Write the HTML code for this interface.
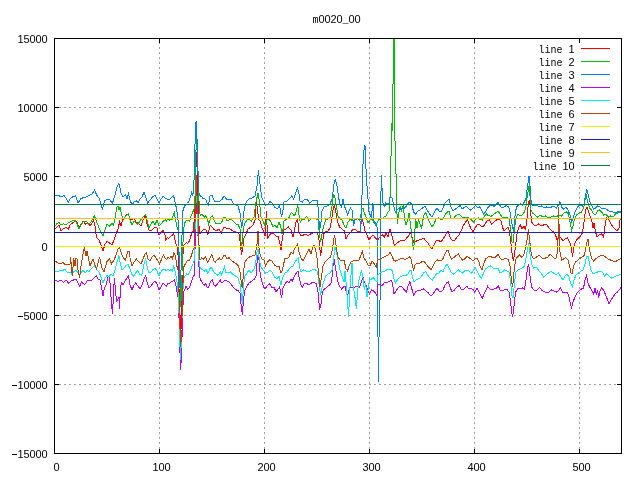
<!DOCTYPE html>
<html><head><meta charset="utf-8"><title>m0020_00</title>
<style>html,body{margin:0;padding:0;background:#fff}svg{display:block}text{font-family:"Liberation Mono",monospace;font-size:11px;fill:#000}</style>
</head><body>
<svg width="640" height="480" viewBox="0 0 640 480">
<rect x="0" y="0" width="640" height="480" fill="#fff"/>
<g shape-rendering="crispEdges" stroke="#a0a0a0" stroke-width="1" stroke-dasharray="2 3" fill="none">
<line x1="54" y1="107.5" x2="622" y2="107.5"/>
<line x1="54" y1="176.5" x2="622" y2="176.5"/>
<line x1="54" y1="246.5" x2="622" y2="246.5"/>
<line x1="54" y1="315.5" x2="622" y2="315.5"/>
<line x1="54" y1="384.5" x2="622" y2="384.5"/>
<line x1="159.5" y1="454" x2="159.5" y2="38"/>
<line x1="264.5" y1="454" x2="264.5" y2="38"/>
<line x1="369.5" y1="454" x2="369.5" y2="38"/>
<line x1="474.5" y1="454" x2="474.5" y2="38"/>
<line x1="579.5" y1="454" x2="579.5" y2="38"/>
</g>
<rect x="532" y="43" width="84" height="128" fill="#fff"/>
<g shape-rendering="crispEdges" stroke="#000" stroke-width="1" fill="none">
<line x1="54" y1="107.5" x2="59" y2="107.5"/>
<line x1="617" y1="107.5" x2="622" y2="107.5"/>
<line x1="54" y1="176.5" x2="59" y2="176.5"/>
<line x1="617" y1="176.5" x2="622" y2="176.5"/>
<line x1="54" y1="246.5" x2="59" y2="246.5"/>
<line x1="617" y1="246.5" x2="622" y2="246.5"/>
<line x1="54" y1="315.5" x2="59" y2="315.5"/>
<line x1="617" y1="315.5" x2="622" y2="315.5"/>
<line x1="54" y1="384.5" x2="59" y2="384.5"/>
<line x1="617" y1="384.5" x2="622" y2="384.5"/>
<line x1="159.5" y1="454" x2="159.5" y2="449"/>
<line x1="159.5" y1="38" x2="159.5" y2="43"/>
<line x1="264.5" y1="454" x2="264.5" y2="449"/>
<line x1="264.5" y1="38" x2="264.5" y2="43"/>
<line x1="369.5" y1="454" x2="369.5" y2="449"/>
<line x1="369.5" y1="38" x2="369.5" y2="43"/>
<line x1="474.5" y1="454" x2="474.5" y2="449"/>
<line x1="474.5" y1="38" x2="474.5" y2="43"/>
<line x1="579.5" y1="454" x2="579.5" y2="449"/>
<line x1="579.5" y1="38" x2="579.5" y2="43"/>
</g>
<g shape-rendering="crispEdges" fill="none" stroke-width="1" stroke-linejoin="miter">
<path stroke="#ff0000" d="M55 229 L57 227 L59 225 L61 231 L63 229 L66 227.6 L68.4 229 L70 225 L72.4 223 L75 221.6 L77 222 L79 228 L81 224.4 L83 221 L85.6 224 L87.6 222.4 L90 226 L92 223 L93.6 220 L95 226 L96.4 237 L99 240 L101 245 L103 251 L105 244 L107 241.6 L109.6 243 L112 245 L114 240 L116 234 L118 229 L119.6 222 L121 226 L122.4 220 L124.4 218 L126.4 215 L128.4 214 L130 219 L132 220 L134 218.4 L136 222 L139 224 L141 226 L143 220 L145.6 215 L147 224 L149 230 L151 231 L153 229 L155 227 L157 228 L159 235 L161 233 L163 230 L165 235.2 L165.9 240.3 L167.3 237.5 L168.7 238.4 L170.6 236.1 L172 235.6 L173.4 233.3 L174.4 236.6 L175.3 241.2 L176.2 245 L177.5 248.5 L177.5 254.5 L178.5 255.5 L178.5 293.5 M179.5 288.5 L179.5 314.5 L180.5 315.5 L180.5 328.5 L181.5 328.5 L181.5 300.5 L182.5 299.5 L182.5 274.5 M182.5 269.5 L182.5 254.5 L183.5 253.5 L183.5 245.5 L184.2 245 L185.2 243.6 L186.6 242.2 L187.5 243.6 L188.9 241.7 L190.3 238.4 L191.2 234.7 L192.2 231.9 L192.5 231.5 L193.5 231.5 L193.5 222.5 L194.5 221.5 L194.5 209.5 L195.5 208.5 L195.5 167.5 L196.5 166.5 L196.5 152.5 L197.5 153.5 L197.5 200.5 L198.5 201.5 L198.5 225.5 L199.5 226.5 L199.5 233.5 L200.5 233.5 L201.1 232.3 L202.5 230.5 L203.9 229.5 L205.3 229.1 L206.7 231.4 L207.7 234.2 L208.6 232.3 L209.5 227.2 L210.5 225.3 L211.9 226.7 L213.3 228.6 L214.7 230 L216.1 230.5 L217.5 230 L218.9 229.5 L220.3 231.4 L221.2 233.3 L222.4 230 L223.6 227.7 L225 227.2 L227 229 L229 228 L231.6 230 L234 231.6 L237 232.4 L239 234 L240.4 244 L241.6 255 L243 246 L244 238 L246 234 L248 229 L251 227 L253 225 L255 220 L256.4 200 L257.6 212 L259 220 L260.6 222 L262 228 L263.6 231 L265 236 L266.4 211 L267.6 238 L269.6 235 L271.6 233 L274 234 L276 236 L278.4 237 L280 244 L281 250 L282.4 238 L284 230 L286 229 L288.4 227 L291 230 L293 237 L294.4 230 L296 222 L297.6 219 L299 232 L301 236 L303.6 235 L306 234 L308 235.6 L310.4 234 L313 233 L315.6 232 L317.6 233 L319 240 L320.6 256 L322.4 244 L323.6 234 L325.6 232 L328 231 L330 228 L331.6 220 L333 210 L334.4 205 L336 213 L337.6 222 L339.6 227 L342 229 L344.4 231 L346 239 L348 235 L350 233 L352.4 230 L355 229 L357 231 L360 231.6 L361 224 L362.4 220 L363.6 224 L365 231 L367 235 L369 240 L371 237 L373 235 L375.6 238 L377.6 240 L380 237 L382.4 235 L384.4 237 L386 233 L388 237 L390 229 L391.6 234 L393 240 L394.4 246 L397 243 L400 241 L403 240 L405 240 L407.6 237 L409.6 234 L411 233 L412.4 239 L414 243 L416.4 241 L419 240 L421.6 239 L424 238.4 L426 241 L428 243 L430 247 L432 249 L434 245 L436 241 L438.4 240.4 L441 242 L443 239 L445 236 L447 232 L448 231 L449.6 236 L451.6 240 L454 241 L456.4 238 L459 235 L461 231 L463.6 225 L465.6 222 L467.6 220 L469 224 L471 229 L473 231.6 L475 228 L477 225 L479 224 L481 226 L483 227 L485 224 L487 221 L489.6 220 L491.6 224 L494 222 L496.4 220 L499 219 L501 221 L502.4 227 L504 231 L506 229 L508 227 L509.6 232 L511 244 L512.4 256 L513.4 261 L515.6 246 L517 234 L518.4 228 L520.4 225 L522 229 L524 226 L525.6 230 L527 218 L528.4 203 L529.6 200 L530.6 212 L531.6 222 L533.6 225 L536 226 L538.4 224 L541 226 L543.6 225 L546 224 L548.4 227 L551 230 L553.6 232 L555.6 235 L557 240 L559 237 L561 238 L563 241 L565 239 L567.6 238 L569.6 242 L571.6 248 L572.4 257 L574.4 244 L576.4 240 L578.4 238 L580.4 236 L582.4 233 L584 222 L585.6 210 L587 207 L588.4 211 L590 216 L591.6 220 L593 228 L594 223 L595.6 232 L597 237 L599 235 L601.6 234 L603.6 237 L605 226 L606.4 218 L607.6 216 L609 220 L611 224 L613 227 L615 229 L617 231 L619 228 L620 220 L621 219"/>
<path stroke="#00c000" d="M55 226 L57 223.6 L59 222.4 L61 225 L63.6 223.6 L66 225 L69 222.4 L72 221 L75 220 L77 224 L79 229 L81 225 L83 222 L86 221 L88.4 224 L91 222.4 L93 218 L94.4 216 L96.4 221 L99 228 L101 232 L103 235.6 L105 230 L107 224 L109.6 226 L112 223.6 L113.6 225 L115 218 L117 207 L118 206 L119 210 L120 207 L121.6 215 L123 219 L125 217 L127 215 L128.4 214 L130 220 L132 225 L134 221 L136 223 L138 224.4 L140.4 220 L142.4 218 L144 216 L145.6 214.4 L147 220 L149 228 L151 224 L153 221 L155 225 L157 220 L159 226 L161 224 L163 221.6 L164.8 220 L165 219.7 L166.4 221.1 L167.8 219.2 L169.2 220.2 L170.6 218.7 L172 219.7 L173.4 215 L174.4 212.7 L175.3 218.7 L176.2 222.5 L176.5 226.5 L177.5 227.5 L177.5 229.5 L178.5 230.5 L178.5 251.5 L179.5 252.5 L179.5 287.5 L180.5 288.5 L180.5 306.5 M181.5 300.5 L181.5 274.5 M182.5 270.5 L182.5 242.5 L183.5 241.5 L183.5 227.5 L184.5 226.5 L184.2 224.4 L185.2 222 L186.6 220.6 L188.4 220.2 L189.6 221.6 L190.8 216.9 L192.2 213.1 L193.1 211.2 L193.5 211.5 L193.5 209.5 L194.5 208.5 L194.5 196.5 L195.5 195.5 L195.5 150.5 L196.5 149.5 L196.5 139.5 L197.5 140.5 L197.5 170.5 L198.5 171.5 L198.5 200.5 L199.5 201.5 L199.5 213.5 L199.9 214.1 L200.6 215.5 L202 214.1 L203.4 215.9 L204.4 217.3 L205.8 215.5 L206.7 217.3 L207.7 220.2 L208.6 223.9 L209.5 221.1 L210.9 217.3 L212.3 215.5 L213.3 217.3 L214.2 220.2 L215.6 223 L217.5 223.9 L219.4 223 L221.2 223 L222.7 220.2 L223.6 217.8 L225 217.3 L227 221 L229 220 L231 219 L233 221 L236 224 L238.4 225 L240 229 L241.6 249 L243 232 L244.4 224 L247 220 L249 219 L251.6 221 L254 217 L256 202 L258 193 L259.6 203 L261 217 L263 221 L265 226 L267 220 L269 219 L271 222 L273 227 L275 225 L277 228 L279 222 L280.6 226 L282 234 L283.6 227 L283.8 221 L285.4 220.4 L286.6 219 L289 217.5 L290 214.8 L291.3 212.2 L292.5 213.5 L294 216 L295.4 214 L296.3 211.6 L297 208 L297.5 205 L298.2 208 L298.8 214 L299.4 216 L299.8 221 L300.4 222 L301 221 L302.2 219.4 L304.8 219 L305.4 217.5 L306.6 216.3 L307.5 218 L308.5 219.4 L308.6 221.6 L311 219 L314 218.4 L316.4 219 L318 220 L319 230 L320.6 242 L322 234 L323.6 226 L325.6 220 L328 219 L330 217 L332 206 L333.6 194 L335 198 L336.4 206 L338 216 L340 219 L342 220 L344.4 226 L346 228 L348 222 L350.4 219 L352.4 221 L354.4 220 L357 218 L359 220 L360.4 219 L361.6 209 L363 208 L364.4 213 L366 217 L368 223 L370 220 L371.6 219 L373.6 222 L375.6 225 L377.6 222 L380 218 L382 219 L384 217 L386 216 L388 212 L389.5 210.5 L389.5 197.5 L390.5 196.5 L390.5 156.5 L391.5 155.5 L391.5 123.5 L392.5 130.5 L392.5 84.5 L393.5 83.5 L393.5 38.5 L394.5 38.5 L394.5 140.5 L395.5 141.5 L395.5 173.5 L396.5 174.5 L396.5 213.5 L397.5 214.5 L397.5 223.5 L398.5 214.5 L399.5 209.5 L400.5 207.5 L401.5 210.5 L402.5 206.5 L403.5 205.5 L404.4 218 L406 225 L407.6 220 L409 213 L410.4 224 L412 238 L413.6 250 L414.4 240 L415.6 218 L417 228 L418.4 220 L420 224 L421.6 228 L423.6 216 L425.6 212.4 L427.6 218 L429.6 222 L432 227 L434 224 L436 219 L438.4 218 L441 219.6 L443 219 L445 215 L447 212.4 L449 211 L451 218 L453 219 L455.6 216 L458 214 L460 215 L462 217 L464.4 218 L467 217.6 L469 218 L471.6 220 L473.6 222 L476 219 L478.4 218 L480.4 219.6 L482.4 220 L484.4 216 L486.4 214 L488.4 215.6 L491 216.4 L493 215 L495.6 213 L498 211 L500 214 L502 217 L504.4 217.6 L507 217 L509 219 L510.4 228 L512 242 L513 243 L514.4 230 L516 218 L518 214 L520.4 216 L522.4 215 L524.4 212 L526 206 L527.6 194 L529 186 L530 196 L531 210 L532.4 213 L535 215 L537.6 217 L540 215 L543 217 L545.6 216 L548 218 L551 217 L553.6 216 L556 217 L559 215 L561.6 216 L564 213 L566.4 212 L568.4 214 L570 222 L571.6 230 L573 226 L574.4 219 L576.4 215 L579 213 L581.6 212 L583.6 208 L585 200 L586.4 196 L588 203 L589.6 208 L591.6 210 L593.6 214 L595.6 215 L597.6 211 L599.6 210 L601.6 212 L603.6 215 L606 214 L608 217 L610.4 216 L613 217 L615.6 214 L618 213 L620 212.4 L621 211.6"/>
<path stroke="#0080ff" d="M55 195.6 L59.6 196 L61.2 197 L64 195.6 L66 198 L68.4 202.4 L70 199 L72.4 197 L75.6 195.6 L78 203 L81 198.4 L84 197.6 L87 196.6 L90 195 L92.4 193.6 L94.4 190 L97 195.6 L99.6 199 L102.4 209.6 L104.4 201 L107 199 L110 200 L112.4 203.6 L114.4 197 L117 187 L119 183.6 L121 193 L123 197 L125.6 194.4 L127 199 L128.4 194 L130 200 L132 205 L134 202 L136.4 201 L138 202.6 L140 199 L142 197 L144 192 L145.6 197 L147.6 203 L150 200 L152.4 197 L155 195.6 L157 199 L159 203 L161 199 L163 196.6 L166 198.4 L168 200 L170 199 L172 197 L173.6 195.6 L175 202 L175.8 205.6 L176.7 209.4 L177.7 218.7 L178.5 222.5 L178.5 255.5 L179.5 256.5 L179.5 287.5 L180.5 287.5 L180.5 270.5 L181.5 269.5 L181.5 235.5 L182.5 234.5 L182.5 212.5 L183.5 208.5 L184.7 206 L186 204.7 L187.5 203.5 L189.4 200 L190.8 195.3 L191.7 192.5 L192.5 194.5 L193.5 192.5 L193.5 180.5 L194.5 179.5 L194.5 144.5 L195.5 143.5 L195.5 122.5 L196.5 121.5 L196.5 120.5 L196.5 138.5 L197.5 139.5 L197.5 172.5 L198.5 173.5 L198.5 192.5 L199.5 193.5 L200.2 196.2 L201.6 196.7 L202.5 198.1 L203.9 198.6 L205.3 199 L206.2 200.5 L207.2 203.8 L208.1 205.2 L209 201.9 L209.5 196.2 L211 195.3 L212.3 195.8 L213.3 199 L214.5 201 L215.6 201.9 L218.4 201.9 L220 201 L221.2 200 L222.2 199.5 L223.1 197.2 L224.5 196.2 L226.4 199 L229 199.6 L231 199 L233 203 L235.6 205 L238 206 L240 213 L241.6 228 L243 220 L244.4 208 L246.4 202 L249 199 L252 198 L255 196 L257 186 L258.4 170.4 L260 184 L261.6 197 L263.6 201 L265.6 205 L268 204 L270 201.6 L272 203 L274.4 207 L277 209 L279.6 206 L281.6 217 L283 210 L284 202 L287 201 L290 198 L292 195.6 L293.6 199 L296 192 L297.6 188 L299 194 L300 201 L302.4 202 L305 199 L307.6 200 L309.6 203 L312 201 L315 200.4 L317.6 201 L318.4 212 L319.6 230.4 L321 222 L322 211 L324 207 L327 206 L330 204 L332.4 198 L333.6 186 L335.4 179 L337 186 L338.4 196 L340 205 L341.6 207 L343 199 L344 205 L345.6 209 L347.6 215 L349 211 L350.4 208 L352 210 L353.6 226 L355 220 L357 219 L359 218 L360.5 222.5 L360.5 231.5 L361.5 215.5 L361.5 195.5 L362.5 194.5 L362.5 164.5 L363.5 163.5 L363.5 150.5 L364.5 149.5 L364.5 145.5 L365.5 146.5 L365.5 168.5 L366.5 169.5 L366.5 185.5 L367.5 186.5 L367.5 198.5 L368.5 199.5 L368.5 210.5 L369.5 212.5 L370.5 216.5 L371.5 217.5 L371.5 211.5 L372.5 210.5 L372.5 203.5 L373.5 204.5 L373.5 220.5 L374.5 221.5 L375.5 223.5 L376.5 225.5 L377.5 228.5 L377.5 336.5 L378.5 337.5 L378.5 381.5 L378.5 337.5 L379.5 336.5 L379.5 300.5 L380.5 299.5 L380.5 191.5 L381.5 190.5 L381.5 174.5 L381.5 188.5 L382.5 188.5 L382.5 202.5 L383.5 203.5 L383.5 205.5 L384.5 206.5 L385.5 204.5 L385.5 202.5 L386.5 203.5 L388.5 203.5 L389.5 202.5 L389.5 198.5 L390.5 197.5 L391.5 197.5 L392.5 198.5 L392.5 201.5 L393.5 202.5 L393.5 206.5 L394.5 207.5 L394.5 210.5 L395.5 211.5 L395.5 212.5 L396.5 210.5 L397.5 209.5 L398.5 208.5 L399.5 207.5 L400.5 209.5 L401.5 208.5 L403.5 208.5 L404.4 208 L406.4 206 L408.4 203 L410 202 L412 205 L413.6 212 L415.6 214 L418 211 L420 210 L422.4 208 L425 206 L427 210 L429.6 214 L432 217 L434.4 212 L437 208 L439 211 L441 212 L443 208 L445 203 L447 201 L449 199 L451 207 L453 211 L455.6 209 L458 207 L460 205.6 L462 209 L464 207.6 L466 206.4 L468 208 L470.4 210 L473 208 L475.6 205.6 L477.6 207.6 L479.6 207 L481.6 210 L483.6 214 L485.6 212 L487.6 208 L489.6 206 L492 205 L494 206.4 L496 204.4 L498 202.4 L500 205.6 L502 208 L504 207 L506 205.6 L508 206.4 L509.6 209 L511 218 L512.4 226 L513.6 232 L515 216 L516.4 207 L518.4 205 L520.4 204 L522.4 205 L524.4 202 L526 198 L527.6 186 L529 176 L530 186 L531 200 L532.4 205 L534.4 206 L536.4 205 L539 207 L541.6 206 L544 208 L546.4 207 L549 208 L551.6 207 L554 206 L556.4 208 L558.4 205 L560 201.6 L561.6 207 L563.6 209 L566 207 L568 210 L570 215 L571.6 222 L573 219 L574.4 213 L576.4 209 L578.4 206 L580.4 205 L582.4 206 L584 204 L585.6 194 L587 189.6 L588.4 196 L590 202 L591.6 205 L593.6 209 L595.6 208 L597.6 206 L600 207 L602.4 209 L605 208 L607.6 210 L610 212 L612.4 211.6 L615 213 L617.6 212 L620 211.6 L621 212"/>
<path stroke="#c000ff" d="M55 280 L58 281.6 L61 280 L63.6 282.4 L66 280 L68.4 283 L71 281 L73.6 280 L76 279 L78 283 L79.6 286.4 L81.6 282 L83 283.6 L85 284.4 L87 281 L89 280 L91 281 L93 279 L95 277 L96.4 276 L98 279 L100 280 L101.6 288 L103 296 L104.4 288 L106 285 L108 277 L109.4 276 L110.6 290 L111.6 306 L112.6 313.6 L113.6 290 L114.4 278 L115.6 292 L116.6 301 L118 299 L119 297 L119.6 309 L120.4 288 L121.6 283 L123 285 L125 281 L127 278 L128.4 276 L130 285 L132 290 L134 285 L135.6 283 L138 286 L140 289 L142 285 L144 279 L145.6 275.6 L147 282 L149 288 L151 286 L153 283 L155 281 L157 284 L159 290 L161 287 L163 283 L165 284.8 L166.4 286.2 L167.8 283.4 L169.7 283 L171.1 282 L172.5 281.6 L173.6 280.2 L174.4 279.7 L175.5 283.5 L176.5 288.5 L176.5 291.5 L177.5 292.5 L177.5 296.5 L178.5 297.5 L178.5 317.5 L179.5 318.5 L179.5 352.5 L180.5 353.5 L180.5 369.5 M181.5 362.5 L181.5 337.5 L182.5 336.5 L182.5 305.5 L183.5 304.5 L183.5 292.5 L186.1 286.2 L187.5 289.1 L188.9 288.6 L190.3 285.3 L191.7 281.1 L192.7 277.3 L193.5 276.5 L194.5 274.5 L194.5 249.5 L195.5 248.5 L195.5 214.5 L196.5 213.5 L196.5 203.5 L197.5 204.5 L197.5 235.5 L198.5 236.5 L198.5 266.5 L199.5 267.5 L199.5 273.5 L200.2 279.2 L201.6 281.6 L203 283.9 L204.4 285.3 L205.8 283.4 L207.2 287.2 L208.1 288.1 L209.5 284.4 L210.9 281.1 L212.3 279.7 L213.3 283.4 L214.2 285.8 L215.6 286.2 L217 284.4 L218.4 282.5 L220.3 280.2 L221.2 282.5 L222.7 282.5 L224.1 280.6 L225 280.2 L227 281 L229.6 282.4 L231.6 285 L234 288 L236.4 290 L238.4 291 L240 293 L241 304 L242.4 315 L243.6 298 L245 290 L247 286 L249 283 L252 281 L254.4 279 L256 276 L257.6 256 L258.2 254.4 L259 260 L260.4 276 L262 282 L263.6 287 L265 289 L267 286 L269.6 284 L271.6 287 L274 287 L276 292 L278 289 L279.6 287 L281.6 298 L283 288 L285 284 L287 281 L289 283 L291 279 L292.4 281 L294.4 276 L296.4 273 L298 271 L299.4 279 L301 285 L302.4 287 L304.4 283 L307 283.6 L309 285 L311.6 283 L314 282 L316.4 284 L318 292 L319.6 310 L321 304 L322.4 292 L324.4 289 L327 287 L329.6 285 L331.6 282 L333 266 L334 259 L335.6 269 L337 277 L338.4 284 L340 287 L341.6 289 L343.6 287 L345 286 L346.4 293 L347.6 296 L349 290 L350.4 287 L352.4 288 L355 287 L357.6 286 L359.6 287 L361.6 281 L363 277 L364.4 282 L366 285 L368 291 L369.6 294 L371.6 290 L373.6 291 L375.6 293 L377 295.6 L378 285 L380 284 L382 286 L384 283 L386.4 282.4 L389 281.6 L391 280 L392.4 283 L394 294 L396 291 L398 288 L400 286 L402 287 L404.4 290 L406.4 292 L408.4 285 L410 281.6 L411.6 288 L413.6 295 L415.6 292 L418 290 L421 290 L423.6 289 L426 291 L428.4 293 L431 296 L433 294 L435 291 L437 288 L439 291 L441 292 L443 290 L445 285 L447 282.4 L448.4 282 L450 287 L452 292 L454.4 290 L457 287 L459 285.6 L461 289 L463 290 L465 288 L467 286.4 L469 289 L471 288 L473 289.6 L475 292.4 L477 288 L479 292 L481 296 L482.4 298 L484 294 L486 290 L487.6 286.4 L489.6 289 L492 290 L494.4 289 L496.4 288 L498.4 286 L500 290 L502 291 L504.4 290 L507 289.6 L509 292 L510.4 300 L511.6 312 L512.6 317 L514 306 L515.6 292 L517.6 289 L518 288 L520 289 L522.4 288 L524.4 289 L526 280 L527.6 268 L528.6 263.6 L530 276 L531.6 287 L533.6 290 L535.6 291 L538 289 L539.6 287.6 L541.6 290 L544 291.6 L546.4 292.4 L549 292 L551.6 290 L554 291 L556.4 292 L559 290 L560.4 288 L562.4 292 L565 293 L567.6 292.4 L569 297 L570.6 305 L571.6 308 L573 302 L575 297 L577 293 L579 291 L581.6 289 L583.6 288 L585 280 L586.4 275.6 L588 283 L589.6 287 L591.6 290 L593.6 294.4 L595 288 L596.4 295 L597.6 290 L598.6 298 L600 291 L601.6 288 L603.6 290 L605.6 295 L607.6 300 L609 303.6 L611 300 L613 297 L615 294 L617 292.4 L619 290 L621 287.6"/>
<path stroke="#00eeee" d="M55 271.6 L59 271 L62 270.4 L65 269.6 L68 273 L70 272 L71.6 274 L73.6 272 L76 270 L78 273 L79.6 276 L81.6 272 L83 270 L85 273 L87 270.4 L89 271.6 L91 269 L93 267 L94.4 265.6 L96.4 269 L99 272 L101 277 L103 283 L105 278 L107 275.6 L109 277 L111 274 L113 276 L115 270 L117 262 L119 255.6 L120.4 264 L122 270 L124 268 L126 265.6 L128 264 L129.6 268 L131.6 274 L133.6 276 L135.6 273 L137.6 271 L139.6 274 L141.6 275.6 L143.6 266 L145.6 258.4 L147 266 L149 273 L151 272 L153 269.6 L155 268 L157 271 L159 276 L161 272 L163 269 L165 269.8 L166.4 270.3 L167.8 269.4 L169.7 270.3 L171.1 269.8 L172.5 271.2 L173.6 266.6 L174.8 269.4 L175.8 275 L176.7 280.6 L177.5 283.5 L177.5 291.5 L178.5 292.5 L178.5 312.5 L179.5 313.5 L179.5 346.5 L180.5 347.5 L180.5 359.5 M181.5 347.5 L181.5 341.5 M182.5 317.5 L182.5 315.5 M183.5 288.5 L183.5 282.5 L183.7 277.8 L185.2 275.9 L186.6 274.1 L188 275 L189.4 272.2 L190.8 269.4 L192.2 265.6 L193.5 263.5 L194.5 259.5 L194.5 229.5 L195.5 228.5 L195.5 203.5 L196.5 202.5 L196.5 190.5 L196.5 202.5 L197.5 203.5 L197.5 234.5 L198.5 235.5 L198.5 260.5 L199.5 261.5 L199.5 266.5 L200.6 268 L202 269.4 L203.4 270.3 L204.8 271.2 L206.2 269.4 L207.7 273.1 L208.6 272.2 L209.5 269.4 L210.7 267.5 L211.9 268.4 L213.3 271.2 L214.7 273.1 L216.1 274.1 L217.5 275 L218.9 274.1 L220.3 272.2 L221.7 275 L223.1 270.3 L224.5 266.6 L225.6 272 L228 273 L230.4 272 L233 274.4 L235.6 276 L238 278 L240 284 L241.6 297 L242.4 304 L243.6 284 L245 276 L247 273 L249 270 L251 273 L253.6 270 L255.6 264 L257 252 L258 249 L259.4 260 L261 267 L263 270 L265.6 273 L268 272 L270 270 L272 272 L274.4 277 L277 279 L279 276 L281 285 L282.4 278 L285 273 L287 272 L289 269 L291 267 L293 266 L295 262 L297 259 L298.4 258 L299.6 268 L301 272 L303.6 270 L306 271 L308 272 L310 271 L312.4 270 L315 269.6 L317.6 271.6 L319 284 L320.6 295 L322 288 L323.6 282 L325.6 276 L328 274 L330 273 L332 270 L333.6 259 L335 246 L336.4 252 L338 260 L340 270 L342 276 L344 282 L345 271 L346.4 286 L347.6 304 L348.6 317 L349.6 292 L351 275 L352 263 L353 286 L354.4 293 L355.6 302 L356.4 309 L357.6 292 L359 280 L360.4 274 L361.6 271 L363 278 L364.4 290 L365.6 283 L367 297 L368.4 287 L369.6 280 L371.6 279 L373 277 L375 280 L377 282 L378 275 L380 273 L382.4 272 L385 271 L387 269.6 L389 270 L391 269 L392.4 271 L394 279 L395.6 283 L398 279 L400 277 L402.4 275.6 L405 276 L407.6 274.4 L409.6 271 L411 270 L412.4 277 L414 282 L416 280 L418.4 279 L421 277 L423.6 273 L425.6 271.6 L427.6 275 L430 278 L432.4 280 L434.4 277 L436.4 274 L439 273 L441 270 L443 271.6 L445 267 L447 264 L449 268 L451 272 L453.6 274 L456 272 L458.4 270 L460.4 271.6 L462.4 273 L464.4 271 L467 270 L469 271 L471.6 273 L473.6 270 L475.6 268 L477.6 272 L479.6 276 L481.6 278 L483.6 273 L485.6 269 L488 267 L490.4 266 L493 268 L495.6 269 L498 268 L500 273 L502.4 272 L504.4 270 L507 271 L509 272 L510.4 280 L512 296 L513 298 L514.4 284 L516 272 L518 270 L520 269 L522.4 268 L524.4 266 L526 258 L527.6 248 L528.6 243 L530 254 L531.6 264 L533.6 268 L536 267 L538.4 270 L541 273 L543.6 277 L546 275 L548.4 273 L551 271 L553.6 273 L556 275 L558.4 273 L561 277 L563 280 L565 276 L567 274 L569 277 L570.6 283 L572.4 287 L574 280 L576 275 L578.4 273 L581 271 L583 270 L585 264 L586.4 257 L588 256 L589.6 264 L591 270 L593 274 L595 273 L597.6 272 L600 271.6 L602.4 272 L604.4 276 L606.4 274 L609 276 L611.6 278 L614 277 L616.4 276 L619 275 L621 274"/>
<path stroke="#c04000" d="M55 261 L58 263 L61 264 L63 262.4 L65 264.4 L68 265 L70 264 L70.6 257 L71.6 270 L72.4 276 L73.6 258 L75 266 L76 258 L77 259 L78 270 L79.6 278 L81 266 L83 254 L84.4 247.6 L86 256 L87 251 L88.4 258 L90 266 L91.6 262 L93 259 L95 265 L96.4 269 L98 263 L99.6 257 L101 264 L102.4 269 L104 272 L105.6 266 L107 261.6 L109.6 259 L111.6 264 L114 260 L116 255 L118 249 L119.6 248 L121.6 254 L123.6 258 L125.6 260 L127.6 252 L129 251 L130.4 260 L132 266 L134 262 L136.4 259 L139 262 L141 264 L143 259 L145 254 L146.4 252.4 L148 259 L150 261 L152 257 L154 255 L156 258 L158 261 L159.6 264 L161.6 259 L163.6 255 L165 258.1 L166.4 259.5 L167.8 257.7 L169.7 258.1 L171.1 256.2 L172.5 258.6 L173.9 253 L174.8 253.4 L176.5 262.5 L176.5 266.5 L177.5 266.5 L177.5 269.5 L178.5 270.5 L178.5 288.5 M179.5 294.5 L179.5 328.5 L180.5 329.5 L180.5 346.5 M181.5 340.5 L181.5 329.5 M182.5 314.5 L182.5 283.5 L183.5 281.5 L183.5 267.5 L185.2 264.2 L186.6 261.9 L188 260 L189.4 260.5 L190.8 257.2 L192.2 253 L193.5 248.5 L194.5 247.5 L194.5 222.5 L195.5 221.5 L195.5 196.5 L196.5 195.5 L196.5 174.5 L196.5 195.5 L197.5 196.5 L197.5 213.5 L198.5 214.5 L198.5 244.5 L199.5 245.5 L199.5 259.5 L200.4 259.5 L202 257.7 L203.4 259.5 L204.4 257.7 L205.8 256.7 L206.7 260.5 L207.9 262.3 L209.1 260 L210.5 257.2 L211.9 254.8 L212.8 257.7 L213.7 260.9 L215.2 262.3 L216.6 260.5 L218 259.5 L219.4 258.1 L220.8 260 L222.2 259.1 L223.6 255.8 L225 254.8 L227 259 L229 257.6 L231 260 L233.6 262 L236 263.6 L238.4 266 L240 272 L241.6 285 L242.4 288 L243.6 270 L245 262 L247 259 L249.6 257 L252 256 L255 255 L256.4 248 L257.6 240 L258 231 L259 248 L260.4 256 L262 259 L264 260 L265.6 266 L267.6 262 L269.6 260 L272 261 L274.4 265 L277 267 L279 266 L281 273 L282.4 270 L285 258 L287 259 L289 257 L291 252 L293 254 L294.4 249 L296 246 L297.6 244 L299 252 L301 258 L303 261 L305 257 L307 253 L309 249 L311 254 L312.4 248 L314 245 L315.6 250 L317 258 L318.4 272 L320 287 L321.6 276 L323 266 L325 262 L328 259 L330.4 257 L332.4 250 L333.6 240 L334.4 235.6 L335.6 240 L336.4 249 L338 257 L340 260 L342 261 L344 260 L346 269 L347.6 271 L349 266 L351 262 L353 261 L355 260 L357 261 L359 260 L361 255 L362.4 251.6 L364 258 L366 261 L368 265 L370 266 L372 261 L373.6 263 L375 265 L376.4 267 L377.6 259 L380 259 L382 258 L384 257 L386 256 L388 255 L390 252.4 L392 256 L393.6 260 L395.6 261 L398 260 L400 259 L402.4 258.4 L405 259.6 L407.6 258.4 L409.6 257 L411 259 L412.4 266 L413.6 270 L415 265 L417 263 L419 264 L421.6 262 L424 261 L426 264 L428.4 267 L431 269.6 L433 266 L435 262 L437.6 260 L440 261 L442.4 260 L444.4 255 L446.4 251 L448 250.4 L449.6 255 L451.6 259 L454 257.6 L456 255.6 L458.4 254 L460 257 L462.4 260 L464.4 259 L467 256.4 L469 257.6 L471 259 L473 261 L475 259 L477 258 L479 262 L480.4 267 L482 270 L483.6 264 L485.6 259 L488 257 L490.4 256.4 L493 258 L495.6 257 L498 254.4 L500 258 L502 260 L504 259 L506.4 258.4 L508.4 260 L510 266 L511.6 282 L512.6 287 L514 272 L515.6 260 L517.6 256.4 L518 256.4 L519.6 255 L521.6 257 L523.6 255.6 L525 250 L527 240 L528.4 229 L529.6 240 L531 252 L532.4 257 L534 259 L536.4 257 L539 255 L541 257 L543 259 L545.6 258 L548 257 L550 254 L552 256 L554 258 L556 258.4 L557.4 252 L558 240 L558.6 207 L559.4 240 L560 252 L561.6 260 L563.6 259 L565.6 257.6 L568 260 L569.6 266 L571 273 L572 274 L573.6 266 L575.6 262 L578 260 L580.4 258 L582.4 257 L584.4 255 L586 246 L587.6 240 L588 239 L589 246 L590.4 254 L592 259 L593.6 261 L595.6 259 L598 257 L600.4 256 L603 255.6 L605.6 257 L608 259 L610.4 260 L613 261 L615.6 261.6 L618 260 L620 259 L621 258.4"/>
<line stroke="#eeee00" x1="54" y1="246.5" x2="622" y2="246.5"/>
<line stroke="#2020c0" x1="54" y1="232.5" x2="622" y2="232.5"/>
<line stroke="#ffc020" x1="54" y1="218.5" x2="622" y2="218.5"/>
<line stroke="#008040" x1="54" y1="204.5" x2="622" y2="204.5"/>
<line stroke="#ff0000" x1="581" y1="48.5" x2="610" y2="48.5"/>
<line stroke="#00c000" x1="581" y1="61.5" x2="610" y2="61.5"/>
<line stroke="#0080ff" x1="581" y1="74.5" x2="610" y2="74.5"/>
<line stroke="#c000ff" x1="581" y1="87.5" x2="610" y2="87.5"/>
<line stroke="#00eeee" x1="581" y1="100.5" x2="610" y2="100.5"/>
<line stroke="#c04000" x1="581" y1="113.5" x2="610" y2="113.5"/>
<line stroke="#eeee00" x1="581" y1="126.5" x2="610" y2="126.5"/>
<line stroke="#2020c0" x1="581" y1="139.5" x2="610" y2="139.5"/>
<line stroke="#ffc020" x1="581" y1="152.5" x2="610" y2="152.5"/>
<line stroke="#008040" x1="581" y1="165.5" x2="610" y2="165.5"/>
</g>
<g shape-rendering="crispEdges" stroke="#000" stroke-width="1" fill="none">
<rect x="54.5" y="38.5" width="567" height="415"/>
</g>
<defs><filter id="f" x="0" y="0" width="640" height="480" filterUnits="userSpaceOnUse"><feOffset dx="0" dy="0"/></filter></defs>
<g filter="url(#f)">
<text x="20.5" y="43" text-anchor="middle" style="font-family:'Liberation Sans',sans-serif">1</text><text x="26.5" y="43" text-anchor="middle" style="font-family:'Liberation Sans',sans-serif">5</text><text x="32.5" y="43" text-anchor="middle" style="font-family:'Liberation Sans',sans-serif">0</text><text x="38.5" y="43" text-anchor="middle" style="font-family:'Liberation Sans',sans-serif">0</text><text x="44.5" y="43" text-anchor="middle" style="font-family:'Liberation Sans',sans-serif">0</text>
<text x="20.5" y="112" text-anchor="middle" style="font-family:'Liberation Sans',sans-serif">1</text><text x="26.5" y="112" text-anchor="middle" style="font-family:'Liberation Sans',sans-serif">0</text><text x="32.5" y="112" text-anchor="middle" style="font-family:'Liberation Sans',sans-serif">0</text><text x="38.5" y="112" text-anchor="middle" style="font-family:'Liberation Sans',sans-serif">0</text><text x="44.5" y="112" text-anchor="middle" style="font-family:'Liberation Sans',sans-serif">0</text>
<text x="26.5" y="181" text-anchor="middle" style="font-family:'Liberation Sans',sans-serif">5</text><text x="32.5" y="181" text-anchor="middle" style="font-family:'Liberation Sans',sans-serif">0</text><text x="38.5" y="181" text-anchor="middle" style="font-family:'Liberation Sans',sans-serif">0</text><text x="44.5" y="181" text-anchor="middle" style="font-family:'Liberation Sans',sans-serif">0</text>
<text x="44.5" y="251" text-anchor="middle" style="font-family:'Liberation Sans',sans-serif">0</text>
<line x1="18" y1="316.5" x2="23" y2="316.5" stroke="#000" stroke-width="1" shape-rendering="crispEdges"/><text x="26.5" y="320" text-anchor="middle" style="font-family:'Liberation Sans',sans-serif">5</text><text x="32.5" y="320" text-anchor="middle" style="font-family:'Liberation Sans',sans-serif">0</text><text x="38.5" y="320" text-anchor="middle" style="font-family:'Liberation Sans',sans-serif">0</text><text x="44.5" y="320" text-anchor="middle" style="font-family:'Liberation Sans',sans-serif">0</text>
<line x1="12" y1="385.5" x2="17" y2="385.5" stroke="#000" stroke-width="1" shape-rendering="crispEdges"/><text x="20.5" y="389" text-anchor="middle" style="font-family:'Liberation Sans',sans-serif">1</text><text x="26.5" y="389" text-anchor="middle" style="font-family:'Liberation Sans',sans-serif">0</text><text x="32.5" y="389" text-anchor="middle" style="font-family:'Liberation Sans',sans-serif">0</text><text x="38.5" y="389" text-anchor="middle" style="font-family:'Liberation Sans',sans-serif">0</text><text x="44.5" y="389" text-anchor="middle" style="font-family:'Liberation Sans',sans-serif">0</text>
<line x1="12" y1="454.5" x2="17" y2="454.5" stroke="#000" stroke-width="1" shape-rendering="crispEdges"/><text x="20.5" y="458" text-anchor="middle" style="font-family:'Liberation Sans',sans-serif">1</text><text x="26.5" y="458" text-anchor="middle" style="font-family:'Liberation Sans',sans-serif">5</text><text x="32.5" y="458" text-anchor="middle" style="font-family:'Liberation Sans',sans-serif">0</text><text x="38.5" y="458" text-anchor="middle" style="font-family:'Liberation Sans',sans-serif">0</text><text x="44.5" y="458" text-anchor="middle" style="font-family:'Liberation Sans',sans-serif">0</text>
<text x="56.5" y="471" text-anchor="middle" style="font-family:'Liberation Sans',sans-serif">0</text>
<text x="155.5" y="471" text-anchor="middle" style="font-family:'Liberation Sans',sans-serif">1</text><text x="161.5" y="471" text-anchor="middle" style="font-family:'Liberation Sans',sans-serif">0</text><text x="167.5" y="471" text-anchor="middle" style="font-family:'Liberation Sans',sans-serif">0</text>
<text x="260.5" y="471" text-anchor="middle" style="font-family:'Liberation Sans',sans-serif">2</text><text x="266.5" y="471" text-anchor="middle" style="font-family:'Liberation Sans',sans-serif">0</text><text x="272.5" y="471" text-anchor="middle" style="font-family:'Liberation Sans',sans-serif">0</text>
<text x="365.5" y="471" text-anchor="middle" style="font-family:'Liberation Sans',sans-serif">3</text><text x="371.5" y="471" text-anchor="middle" style="font-family:'Liberation Sans',sans-serif">0</text><text x="377.5" y="471" text-anchor="middle" style="font-family:'Liberation Sans',sans-serif">0</text>
<text x="470.5" y="471" text-anchor="middle" style="font-family:'Liberation Sans',sans-serif">4</text><text x="476.5" y="471" text-anchor="middle" style="font-family:'Liberation Sans',sans-serif">0</text><text x="482.5" y="471" text-anchor="middle" style="font-family:'Liberation Sans',sans-serif">0</text>
<text x="575.5" y="471" text-anchor="middle" style="font-family:'Liberation Sans',sans-serif">5</text><text x="581.5" y="471" text-anchor="middle" style="font-family:'Liberation Sans',sans-serif">0</text><text x="587.5" y="471" text-anchor="middle" style="font-family:'Liberation Sans',sans-serif">0</text>
<text x="312.5" y="23" textLength="6" lengthAdjust="spacingAndGlyphs">m</text><text x="321.5" y="23" text-anchor="middle" style="font-family:'Liberation Sans',sans-serif">0</text><text x="327.5" y="23" text-anchor="middle" style="font-family:'Liberation Sans',sans-serif">0</text><text x="333.5" y="23" text-anchor="middle" style="font-family:'Liberation Sans',sans-serif">2</text><text x="339.5" y="23" text-anchor="middle" style="font-family:'Liberation Sans',sans-serif">0</text><text x="342.5" y="23" textLength="6" lengthAdjust="spacingAndGlyphs">_</text><text x="351.5" y="23" text-anchor="middle" style="font-family:'Liberation Sans',sans-serif">0</text><text x="357.5" y="23" text-anchor="middle" style="font-family:'Liberation Sans',sans-serif">0</text>
<text x="538.5" y="53" textLength="6" lengthAdjust="spacingAndGlyphs">l</text><text x="544.5" y="53" textLength="6" lengthAdjust="spacingAndGlyphs">i</text><text x="550.5" y="53" textLength="6" lengthAdjust="spacingAndGlyphs">n</text><text x="556.5" y="53" textLength="6" lengthAdjust="spacingAndGlyphs">e</text><text x="571.5" y="53" text-anchor="middle" style="font-family:'Liberation Sans',sans-serif">1</text>
<text x="538.5" y="66" textLength="6" lengthAdjust="spacingAndGlyphs">l</text><text x="544.5" y="66" textLength="6" lengthAdjust="spacingAndGlyphs">i</text><text x="550.5" y="66" textLength="6" lengthAdjust="spacingAndGlyphs">n</text><text x="556.5" y="66" textLength="6" lengthAdjust="spacingAndGlyphs">e</text><text x="571.5" y="66" text-anchor="middle" style="font-family:'Liberation Sans',sans-serif">2</text>
<text x="538.5" y="79" textLength="6" lengthAdjust="spacingAndGlyphs">l</text><text x="544.5" y="79" textLength="6" lengthAdjust="spacingAndGlyphs">i</text><text x="550.5" y="79" textLength="6" lengthAdjust="spacingAndGlyphs">n</text><text x="556.5" y="79" textLength="6" lengthAdjust="spacingAndGlyphs">e</text><text x="571.5" y="79" text-anchor="middle" style="font-family:'Liberation Sans',sans-serif">3</text>
<text x="538.5" y="92" textLength="6" lengthAdjust="spacingAndGlyphs">l</text><text x="544.5" y="92" textLength="6" lengthAdjust="spacingAndGlyphs">i</text><text x="550.5" y="92" textLength="6" lengthAdjust="spacingAndGlyphs">n</text><text x="556.5" y="92" textLength="6" lengthAdjust="spacingAndGlyphs">e</text><text x="571.5" y="92" text-anchor="middle" style="font-family:'Liberation Sans',sans-serif">4</text>
<text x="538.5" y="105" textLength="6" lengthAdjust="spacingAndGlyphs">l</text><text x="544.5" y="105" textLength="6" lengthAdjust="spacingAndGlyphs">i</text><text x="550.5" y="105" textLength="6" lengthAdjust="spacingAndGlyphs">n</text><text x="556.5" y="105" textLength="6" lengthAdjust="spacingAndGlyphs">e</text><text x="571.5" y="105" text-anchor="middle" style="font-family:'Liberation Sans',sans-serif">5</text>
<text x="538.5" y="118" textLength="6" lengthAdjust="spacingAndGlyphs">l</text><text x="544.5" y="118" textLength="6" lengthAdjust="spacingAndGlyphs">i</text><text x="550.5" y="118" textLength="6" lengthAdjust="spacingAndGlyphs">n</text><text x="556.5" y="118" textLength="6" lengthAdjust="spacingAndGlyphs">e</text><text x="571.5" y="118" text-anchor="middle" style="font-family:'Liberation Sans',sans-serif">6</text>
<text x="538.5" y="131" textLength="6" lengthAdjust="spacingAndGlyphs">l</text><text x="544.5" y="131" textLength="6" lengthAdjust="spacingAndGlyphs">i</text><text x="550.5" y="131" textLength="6" lengthAdjust="spacingAndGlyphs">n</text><text x="556.5" y="131" textLength="6" lengthAdjust="spacingAndGlyphs">e</text><text x="571.5" y="131" text-anchor="middle" style="font-family:'Liberation Sans',sans-serif">7</text>
<text x="538.5" y="144" textLength="6" lengthAdjust="spacingAndGlyphs">l</text><text x="544.5" y="144" textLength="6" lengthAdjust="spacingAndGlyphs">i</text><text x="550.5" y="144" textLength="6" lengthAdjust="spacingAndGlyphs">n</text><text x="556.5" y="144" textLength="6" lengthAdjust="spacingAndGlyphs">e</text><text x="571.5" y="144" text-anchor="middle" style="font-family:'Liberation Sans',sans-serif">8</text>
<text x="538.5" y="157" textLength="6" lengthAdjust="spacingAndGlyphs">l</text><text x="544.5" y="157" textLength="6" lengthAdjust="spacingAndGlyphs">i</text><text x="550.5" y="157" textLength="6" lengthAdjust="spacingAndGlyphs">n</text><text x="556.5" y="157" textLength="6" lengthAdjust="spacingAndGlyphs">e</text><text x="571.5" y="157" text-anchor="middle" style="font-family:'Liberation Sans',sans-serif">9</text>
<text x="532.5" y="170" textLength="6" lengthAdjust="spacingAndGlyphs">l</text><text x="538.5" y="170" textLength="6" lengthAdjust="spacingAndGlyphs">i</text><text x="544.5" y="170" textLength="6" lengthAdjust="spacingAndGlyphs">n</text><text x="550.5" y="170" textLength="6" lengthAdjust="spacingAndGlyphs">e</text><text x="565.5" y="170" text-anchor="middle" style="font-family:'Liberation Sans',sans-serif">1</text><text x="571.5" y="170" text-anchor="middle" style="font-family:'Liberation Sans',sans-serif">0</text>
</g>
</svg></body></html>
